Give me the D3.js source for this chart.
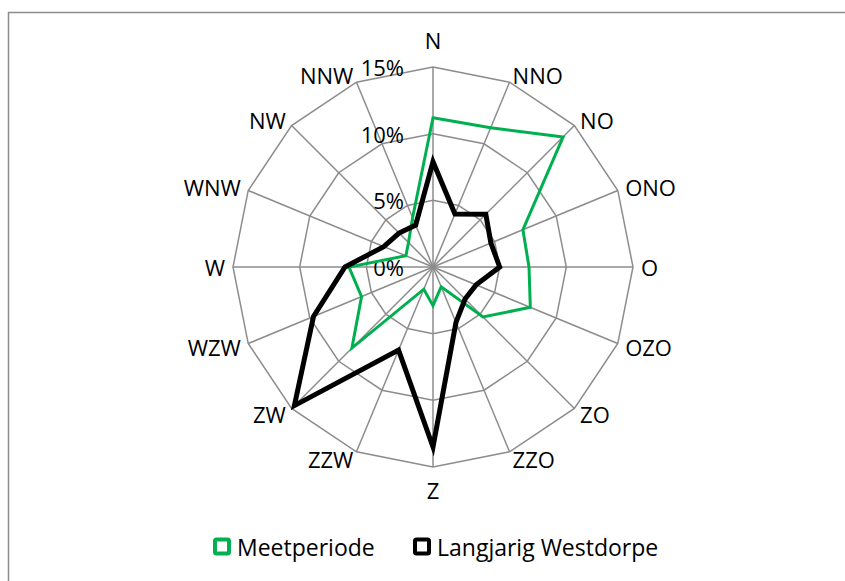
<!DOCTYPE html>
<html>
<head>
<meta charset="utf-8">
<script src="https://cdn.jsdelivr.net/npm/d3@7"></script>
<style>
  body { margin: 0; background: #fff; }
  svg text { font-family: "Open Sans", sans-serif; fill: #000; }
</style>
</head>
<body>
<div id="radarChart"></div>
<script>
// Wind directions, clockwise from north
const directions = ["N", "NNO", "NO", "ONO", "O", "OZO", "ZO", "ZZO", "Z", "ZZW", "ZW", "WZW", "W", "WNW", "NW", "NNW"];

// Frequency per direction (%)
const meetperiode = [11.2, 11.3, 13.8, 7.3, 7.2, 7.9, 5.3, 1.6, 2.9, 1.8, 8.6, 5.8, 6.3, 2.2, 2.6, 4.0];
const langjarig = [7.9, 4.3, 5.6, 4.7, 5.0, 3.5, 3.4, 4.5, 13.5, 6.75, 14.7, 9.7, 6.6, 4.0, 3.6, 3.4];

const seriesNames = ["Meetperiode", "Langjarig Westdorpe"];
const tickValues = [0, 5, 10, 15];

const colors = ["#00b050", "#000000"];
const widths = [3, 5];

const width = 845, height = 581;
const cx = 433, cy = 267;

const svg = d3.select("#radarChart").append("svg")
    .attr("width", width)
    .attr("height", height);

// chart frame
svg.append("rect")
    .attr("x", 8.5)
    .attr("y", 12.5)
    .attr("width", width)
    .attr("height", height)
    .attr("fill", "none")
    .attr("stroke", "#8c8c8c")
    .attr("stroke-width", 1.5);

const rScale = d3.scaleLinear()
    .domain([0, 15])
    .range([0, 200]);

const angleSlice = Math.PI * 2 / directions.length;

const g = svg.append("g")
    .attr("transform", `translate(${cx},${cy})`);

// grid rings (polygons)
const ringLine = d3.lineRadial()
    .radius(d => rScale(d.v))
    .angle((d, i) => i * angleSlice)
    .curve(d3.curveLinearClosed);

g.selectAll(".ring")
    .data(tickValues.filter(t => t > 0))
    .enter().append("path")
    .attr("class", "ring")
    .attr("d", t => ringLine(directions.map(() => ({ v: t }))))
    .attr("fill", "none")
    .attr("stroke", "#8c8c8c")
    .attr("stroke-width", 1.5);

// spokes
g.selectAll(".spoke")
    .data(directions)
    .enter().append("line")
    .attr("class", "spoke")
    .attr("x1", 0)
    .attr("y1", 0)
    .attr("x2", (d, i) => rScale(15) * Math.sin(angleSlice * i))
    .attr("y2", (d, i) => -rScale(15) * Math.cos(angleSlice * i))
    .attr("stroke", "#8c8c8c")
    .attr("stroke-width", 1.5);

// tick labels, left of the N axis
g.selectAll(".tick")
    .data(tickValues)
    .enter().append("text")
    .attr("class", "tick")
    .attr("x", -29)
    .attr("y", d => -rScale(d))
    .attr("text-anchor", "end")
    .attr("dominant-baseline", "central")
    .style("font-size", "22px")
    .text(d => d + "%");

// direction labels
g.selectAll(".dirLabel")
    .data(directions)
    .enter().append("text")
    .attr("class", "dirLabel")
    .each(function (d, i) {
        const s = Math.sin(angleSlice * i), c = Math.cos(angleSlice * i);
        const R = rScale(15);
        let x, y, anchor;
        if (Math.abs(s) < 0.01) {
            x = 0;
            y = c > 0 ? -R - 27 : R + 23;
            anchor = "middle";
        } else {
            x = (R + 8) * s;
            y = -(R + 8) * c;
            anchor = s > 0 ? "start" : "end";
        }
        d3.select(this)
            .attr("x", x)
            .attr("y", y)
            .attr("text-anchor", anchor)
            .attr("dominant-baseline", "central");
    })
    .style("font-size", "22px")
    .text(d => d);

// data series
const radarLine = d3.lineRadial()
    .radius(d => rScale(d))
    .angle((d, i) => i * angleSlice)
    .curve(d3.curveLinearClosed);

[meetperiode, langjarig].forEach((data, k) => {
    g.append("path")
        .datum(data)
        .attr("d", radarLine)
        .attr("fill", "none")
        .attr("stroke", colors[k])
        .attr("stroke-width", widths[k])
        .attr("stroke-linejoin", "miter");
});

// legend
const legendX = [215, 415];
const legend = svg.append("g");

legend.selectAll(".legend-box")
    .data(seriesNames)
    .enter().append("rect")
    .attr("x", (d, i) => legendX[i])
    .attr("y", 539.5)
    .attr("width", 14)
    .attr("height", 14)
    .attr("rx", 1.5)
    .attr("fill", "#fff")
    .attr("stroke", (d, i) => colors[i])
    .attr("stroke-width", 4);

legend.selectAll(".legend-text")
    .data(seriesNames)
    .enter().append("text")
    .attr("x", (d, i) => legendX[i] + 22)
    .attr("y", 547)
    .attr("dominant-baseline", "central")
    .style("font-size", "23px")
    .text(d => d);
</script>
</body>
</html>
